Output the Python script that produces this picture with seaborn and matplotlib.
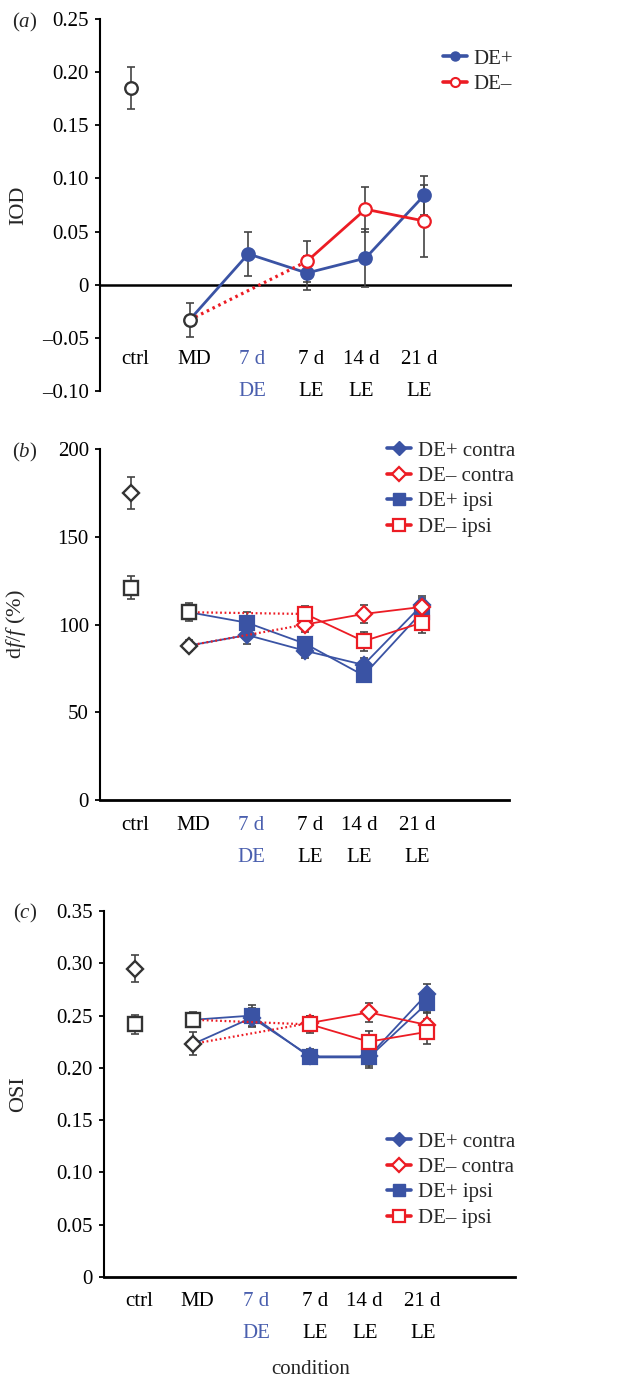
import numpy as np
import pandas as pd
import seaborn as sns
import matplotlib
matplotlib.use('Agg')
from matplotlib import pyplot as plt
from matplotlib import transforms
from matplotlib.lines import Line2D

sns.set_style('ticks')
plt.rcParams['font.family'] = ['Liberation Serif', 'DejaVu Serif']
plt.rcParams['mathtext.fontset'] = 'custom'
plt.rcParams['mathtext.rm'] = 'Liberation Serif'
plt.rcParams['mathtext.it'] = 'Liberation Serif:italic'

BLUE = '#3a53a4'
RED = '#ec1c24'
GREY = '#333333'
EBAR = '#444444'
BLUE_TXT = '#4a5fae'
FS = 15

cat_top = ['ctrl', 'MD', '7 d', '7 d', '14 d', '21 d']
cat_bot = ['', '', 'DE', 'LE', 'LE', 'LE']

# (a) IOD
iod_ctrl, iod_ctrl_err = 0.185, 0.020
iod_md, iod_md_err = -0.033, 0.016
iod_plus = [0.029, 0.011, 0.025, 0.084]      # 7dDE, 7dLE, 14dLE, 21dLE
iod_plus_err = [0.021, 0.016, 0.027, 0.018]
iod_minus = [0.022, 0.071, 0.060]            # 7dLE, 14dLE, 21dLE
iod_minus_err = [0.019, 0.021, 0.034]

# (b) df/f  (ctrl / MD: contra, ipsi)
dff_ctrl = [175, 121]
dff_ctrl_err = [9, 6.5]
dff_md = [88, 107]
dff_md_err = [3, 5]
dff_plus_contra = [94, 85, 77, 111]
dff_plus_contra_err = [5, 4, 4, 5]
dff_plus_ipsi = [101, 89, 71, 107]
dff_plus_ipsi_err = [6, 4, 4, 5]
dff_minus_contra = [100, 106, 110]
dff_minus_contra_err = [4, 5, 5]
dff_minus_ipsi = [106, 90.5, 101]
dff_minus_ipsi_err = [4.5, 5.5, 6]

# (c) OSI
osi_ctrl = [0.295, 0.2415]
osi_ctrl_err = [0.013, 0.009]
osi_md = [0.223, 0.246]
osi_md_err = [0.011, 0.007]
osi_plus_contra = [0.248, 0.211, 0.211, 0.271]
osi_plus_contra_err = [0.009, 0.007, 0.009, 0.009]
osi_plus_ipsi = [0.250, 0.210, 0.210, 0.262]
osi_plus_ipsi_err = [0.010, 0.006, 0.010, 0.010]
osi_minus_contra = [0.243, 0.253, 0.241]
osi_minus_contra_err = [0.007, 0.009, 0.012]
osi_minus_ipsi = [0.2415, 0.225, 0.2345]
osi_minus_ipsi_err = [0.008, 0.010, 0.012]

x_plus = [2, 3, 4, 5]
x_minus = [3, 4, 5]


def series(ax, xs, ys, errs, md_y, color, marker, filled, ms, lw, dotted, z):
    ax.errorbar(xs, ys, yerr=errs, fmt='none', ecolor=EBAR, elinewidth=1.2,
                capsize=2.6, capthick=1.2, zorder=1.5)
    sns.lineplot(x=[1, xs[0]], y=[md_y, ys[0]], ax=ax, color=color,
                 lw=lw if not dotted else lw + 0.3,
                 linestyle=(0, (0.8, 1.2)) if dotted else '-', legend=False, zorder=z)
    df = pd.DataFrame({'x': xs, 'y': ys})
    sns.lineplot(data=df, x='x', y='y', ax=ax, color=color, lw=lw, marker=marker,
                 markersize=ms, markerfacecolor=color if filled else 'white',
                 markeredgecolor=color, markeredgewidth=1.6, legend=False, zorder=z)


def grey_point(ax, x, y, err, marker, ms):
    ax.errorbar([x], [y], yerr=[err], fmt='none', ecolor=EBAR, elinewidth=1.2,
                capsize=2.6, capthick=1.2, zorder=1.5)
    ax.plot([x], [y], marker=marker, ms=ms, mfc='white', mec=GREY, mew=1.7,
            linestyle='none', zorder=5)


def cat_labels(ax, y1, y2):
    tr = transforms.blended_transform_factory(ax.transData, ax.transAxes)
    shift = [0.07, 0.07, 0.07, 0.08, -0.07, -0.08]
    for i, (t, b) in enumerate(zip(cat_top, cat_bot)):
        col = BLUE_TXT if b == 'DE' else 'black'
        ax.text(i + shift[i], y1, t, transform=tr, ha='center', va='center',
                color=col, fontsize=FS)
        if b:
            ax.text(i + shift[i], y2, b, transform=tr, ha='center', va='center',
                    color=col, fontsize=FS)


def style_axis(ax, ticks, labels, ylim, bottom=True):
    ax.set_xlim(-0.53, 6.5)
    ax.set_ylim(*ylim)
    ax.set_xticks([])
    ax.set_xlabel('')
    ax.set_yticks(ticks)
    ax.set_yticklabels(labels, fontsize=FS)
    ax.tick_params(axis='y', direction='out', length=3.5, width=1.3, pad=4.5,
                   colors='black')
    sns.despine(ax=ax, bottom=not bottom)
    ax.spines['left'].set_linewidth(1.5)
    ax.spines['bottom'].set_linewidth(2.0)
    ax.spines['left'].set_color('black')
    ax.spines['bottom'].set_color('black')
    ax.set_facecolor('white')


fig = plt.figure(figsize=(6.24, 13.79), dpi=100)
fig.patch.set_facecolor('white')
W, H = 624, 1379
ax_a = fig.add_axes([100 / W, 1 - 391 / H, 412 / W, 372 / H])
ax_b = fig.add_axes([100 / W, 1 - 800 / H, 409 / W, 351 / H])
ax_c = fig.add_axes([104 / W, 1 - 1277 / H, 411 / W, 366 / H])

# ---- (a)
series(ax_a, x_plus, iod_plus, iod_plus_err, iod_md, BLUE, 'o', True, 9, 2.0, False, 2)
series(ax_a, x_minus, iod_minus, iod_minus_err, iod_md, RED, 'o', False, 9, 2.0, True, 2.5)
grey_point(ax_a, 0, iod_ctrl, iod_ctrl_err, 'o', 9)
grey_point(ax_a, 1, iod_md, iod_md_err, 'o', 9)
ax_a.axhline(0, color='black', lw=1.8, zorder=1)
style_axis(ax_a, [-0.10, -0.05, 0, 0.05, 0.10, 0.15, 0.20, 0.25],
           ['\u20130.10', '\u20130.05', '0', '0.05', '0.10', '0.15', '0.20', '0.25'],
           (-0.10, 0.25), bottom=False)
ax_a.set_ylabel('IOD', fontsize=FS + 1)
ax_a.yaxis.set_label_coords(-0.175, 0.5)
cat_labels(ax_a, 32 / 372, 0.0)
ax_a.legend(handles=[
    Line2D([], [], color=BLUE, lw=2.6, marker='o', ms=6.5, mfc=BLUE, mec=BLUE),
    Line2D([], [], color=RED, lw=2.6, marker='o', ms=6.5, mfc='white', mec=RED, mew=1.5)],
    labels=['DE+', 'DE\u2013'], loc='upper left', bbox_to_anchor=(443 / W, 1 - 49 / H),
    bbox_transform=fig.transFigure, frameon=False, fontsize=FS, borderpad=0,
    borderaxespad=0, handlelength=1.15, handletextpad=0.3, labelspacing=0.3)

# ---- (b) and (c)
def panel_bc(ax, ctrl, ctrl_err, md, md_err, pc, pce, pi, pie, mc, mce, mi, mie):
    series(ax, x_plus, pc, pce, md[0], BLUE, 'D', True, 8, 1.3, False, 2)
    series(ax, x_plus, pi, pie, md[1], BLUE, 's', True, 9.5, 1.3, False, 2.1)
    series(ax, x_minus, mc, mce, md[0], RED, 'D', False, 8, 1.3, True, 2.5)
    series(ax, x_minus, mi, mie, md[1], RED, 's', False, 9.5, 1.3, True, 2.6)
    grey_point(ax, 0, ctrl[0], ctrl_err[0], 'D', 8)
    grey_point(ax, 0, ctrl[1], ctrl_err[1], 's', 9.5)
    grey_point(ax, 1, md[0], md_err[0], 'D', 8)
    grey_point(ax, 1, md[1], md_err[1], 's', 9.5)


def legend_bc(ax, top):
    handles = [
        Line2D([], [], color=BLUE, lw=2.6, marker='D', ms=7.5, mfc=BLUE, mec=BLUE),
        Line2D([], [], color=RED, lw=2.6, marker='D', ms=7.5, mfc='white', mec=RED, mew=1.6),
        Line2D([], [], color=BLUE, lw=2.6, marker='s', ms=8, mfc=BLUE, mec=BLUE),
        Line2D([], [], color=RED, lw=2.6, marker='s', ms=8, mfc='white', mec=RED, mew=1.6)]
    labels = ['DE+ contra', 'DE\u2013 contra', 'DE+ ipsi', 'DE\u2013 ipsi']
    ax.legend(handles=handles, labels=labels, loc='upper left',
              bbox_to_anchor=(387 / W, 1 - top / H), bbox_transform=fig.transFigure,
              frameon=False, fontsize=FS, borderpad=0, borderaxespad=0,
              handlelength=1.15, handletextpad=0.35, labelspacing=0.28)


panel_bc(ax_b, dff_ctrl, dff_ctrl_err, dff_md, dff_md_err,
         dff_plus_contra, dff_plus_contra_err, dff_plus_ipsi, dff_plus_ipsi_err,
         dff_minus_contra, dff_minus_contra_err, dff_minus_ipsi, dff_minus_ipsi_err)
style_axis(ax_b, [0, 50, 100, 150, 200], ['0', '50', '100', '150', '200'], (0, 200))
ax_b.set_ylabel(r'd$f$/$f$ (%)', fontsize=FS + 1)
ax_b.yaxis.set_label_coords(-0.176, 0.5)
cat_labels(ax_b, -25 / 351, -57 / 351)
legend_bc(ax_b, 441)

panel_bc(ax_c, osi_ctrl, osi_ctrl_err, osi_md, osi_md_err,
         osi_plus_contra, osi_plus_contra_err, osi_plus_ipsi, osi_plus_ipsi_err,
         osi_minus_contra, osi_minus_contra_err, osi_minus_ipsi, osi_minus_ipsi_err)
style_axis(ax_c, [0, 0.05, 0.10, 0.15, 0.20, 0.25, 0.30, 0.35],
           ['0', '0.05', '0.10', '0.15', '0.20', '0.25', '0.30', '0.35'], (0, 0.35))
ax_c.set_ylabel('OSI', fontsize=FS + 1)
ax_c.yaxis.set_label_coords(-0.185, 0.5)
cat_labels(ax_c, -25 / 366, -56 / 366)
legend_bc(ax_c, 1132)

fig.text(25 / W, 1 - 22 / H, r'($a$)', ha='center', va='center', fontsize=FS)
fig.text(25 / W, 1 - 452 / H, r'($b$)', ha='center', va='center', fontsize=FS)
fig.text(25 / W, 1 - 913 / H, r'($c$)', ha='center', va='center', fontsize=FS)
fig.text(311 / W, 1 - 1370 / H, 'condition', ha='center', va='center', fontsize=FS)

fig.savefig('out.png', dpi=100, facecolor='white')
